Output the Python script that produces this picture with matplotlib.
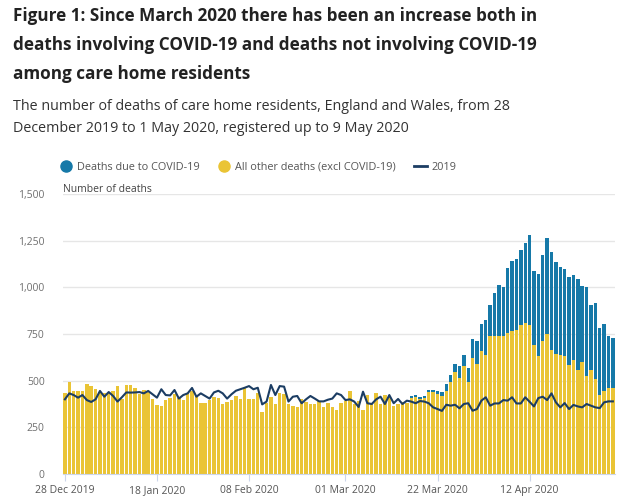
import matplotlib
matplotlib.use("Agg")
import matplotlib.pyplot as plt
from matplotlib.lines import Line2D
from matplotlib.ticker import FuncFormatter
import pandas as pd

# Daily deaths of care home residents, 28 Dec 2019 - 1 May 2020
dates = pd.date_range("2019-12-28", "2020-05-01", freq="D")

other_deaths = [
    432, 494, 445, 445, 445, 484, 471, 455, 437, 432,
    432, 445, 471, 402, 477, 477, 461, 427, 450, 441,
    402, 370, 364, 396, 409, 427, 407, 396, 432, 445,
    420, 380, 380, 396, 415, 409, 377, 387, 396, 420,
    404, 461, 402, 404, 432, 334, 380, 415, 377, 436,
    429, 377, 364, 359, 404, 387, 377, 377, 391, 359,
    380, 359, 343, 379, 391, 445, 375, 393, 343, 423,
    375, 436, 375, 425, 414, 364, 375, 387, 382, 409,
    414, 400, 407, 438, 438, 430, 416, 443, 495, 546,
    514, 577, 491, 624, 589, 657, 640, 737, 738, 737,
    738, 753, 765, 772, 800, 808, 800, 691, 634, 712,
    750, 664, 645, 640, 630, 585, 610, 559, 600, 527,
    556, 510, 425, 445, 463, 463,
]

covid_deaths = [0] * 79 + [
    9, 9, 10, 10, 14, 14, 15, 24, 41, 38,
    41, 63, 61, 77, 97, 125, 146, 186, 171, 233,
    276, 263, 350, 375, 378, 398, 430, 482, 399, 438,
    459, 516, 525, 490, 470, 470, 470, 458, 483, 405,
    474, 351, 406, 357, 357, 278, 265,
]

deaths_2019 = [
    400, 432, 423, 409, 423, 396, 386, 400, 445, 414,
    439, 418, 388, 411, 437, 436, 437, 439, 432, 445,
    427, 409, 454, 423, 421, 450, 404, 423, 432, 461,
    414, 432, 418, 404, 437, 446, 432, 404, 427, 446,
    454, 462, 471, 454, 462, 373, 388, 477, 423, 471,
    468, 388, 414, 418, 379, 400, 418, 404, 389, 389,
    398, 404, 432, 423, 396, 400, 388, 359, 441, 379,
    375, 400, 414, 375, 423, 379, 402, 375, 393, 388,
    379, 391, 388, 379, 357, 348, 338, 371, 366, 371,
    352, 375, 379, 339, 348, 393, 411, 366, 378, 378,
    396, 393, 411, 378, 378, 411, 387, 362, 407, 414,
    396, 432, 384, 357, 380, 348, 370, 362, 357, 375,
    366, 357, 353, 384, 389, 389,
]

tick_labels = ["28 Dec 2019", "18 Jan 2020", "08 Feb 2020",
               "01 Mar 2020", "22 Mar 2020", "12 Apr 2020"]

BLUE = "#1679a8"
YELLOW = "#eac435"
NAVY = "#1c3d63"
GREY = "#707070"

plt.rcParams["font.family"] = ["Open Sans", "DejaVu Sans"]

fig = plt.figure(figsize=(6.27, 5.0), dpi=100)
ax = fig.add_axes([0.100, 0.052, 0.881, 0.560])

x = list(range(len(dates)))
ax.bar(x, other_deaths, width=0.78, color=YELLOW, zorder=2)
ax.bar(x, covid_deaths, width=0.78, bottom=other_deaths, color=BLUE, zorder=2)
ax.plot(x, deaths_2019, color=NAVY, linewidth=1.5, zorder=3)

ax.set_xlim(-0.5, len(dates) - 0.5)
ax.set_ylim(0, 1500)
ax.set_yticks(range(0, 1501, 250))
ax.yaxis.set_major_formatter(FuncFormatter(lambda v, p: f"{int(v):,}"))
ax.grid(axis="y", color="#e6e6e6", linewidth=1, zorder=0)

tick_pos = [list(dates.strftime("%d %b %Y")).index(t) for t in tick_labels]
ax.set_xticks(tick_pos)
ax.set_xticklabels(tick_labels)

for s in ["top", "right", "left"]:
    ax.spines[s].set_visible(False)
ax.spines["bottom"].set_color("#ccd6eb")
ax.tick_params(axis="y", length=0, pad=13, labelsize=7.5, labelcolor=GREY)
ax.tick_params(axis="x", length=5, color="#ccd6eb", pad=3, labelsize=7.5,
               labelcolor="#555555")

# titles
fig.text(0.021, 0.986, "Figure 1: Since March 2020 there has been an increase both in\n"
         "deaths involving COVID-19 and deaths not involving COVID-19\n"
         "among care home residents",
         ha="left", va="top", fontsize=12.3, fontweight="bold", color="#222222",
         linespacing=1.78)
fig.text(0.021, 0.802, "The number of deaths of care home residents, England and Wales, from 28\n"
         "December 2019 to 1 May 2020, registered up to 9 May 2020",
         ha="left", va="top", fontsize=10.3, color="#333333", linespacing=1.62)
fig.text(0.100, 0.621, "Number of deaths", ha="left", va="center", fontsize=7.5,
         color="#444444")

handles = [
    Line2D([], [], marker="o", linestyle="", markersize=8, color=BLUE),
    Line2D([], [], marker="o", linestyle="", markersize=8, color=YELLOW),
    Line2D([], [], color=NAVY, linewidth=2),
]
fig.legend(handles, ["Deaths due to COVID-19", "All other deaths (excl COVID-19)", "2019"],
           loc="center left", bbox_to_anchor=(0.079, 0.666), ncol=3, frameon=False,
           fontsize=7.8, labelcolor="#555555", handlelength=1.2, handletextpad=0.45,
           columnspacing=1.62)

fig.savefig("out.png", dpi=100)
